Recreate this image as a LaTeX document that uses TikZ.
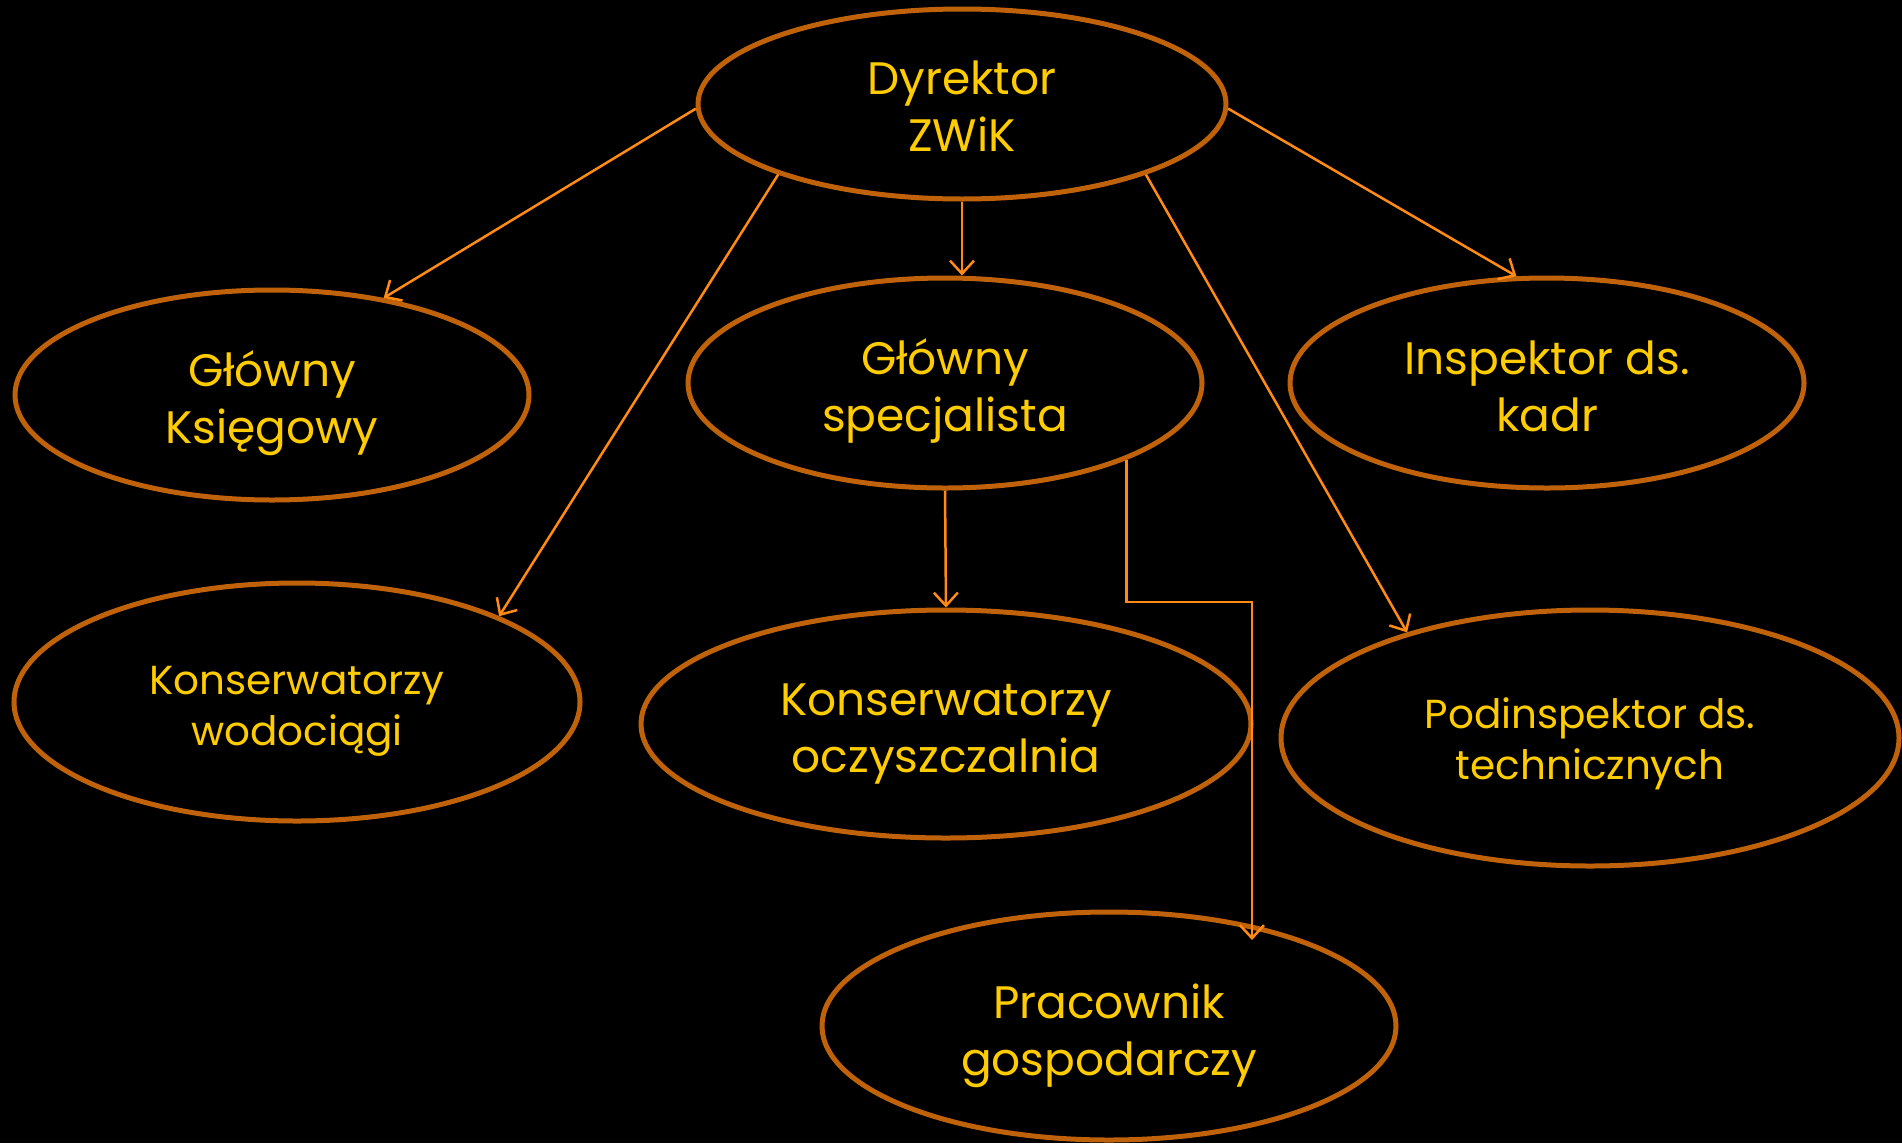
\documentclass[tikz,border=0pt]{standalone}
\usepackage{fontspec}
\setmainfont{Poppins}
\usetikzlibrary{shapes.geometric,arrows.meta}
\definecolor{ring}{HTML}{C0620A}
\definecolor{arrowc}{HTML}{FF8A14}
\definecolor{txt}{HTML}{FFCC00}
\newcommand{\twolines}[3][-9pt]{\raisebox{#1}[\height][\depth]{\begin{tabular}{@{}c@{}}#2\\#3\end{tabular}}}
\begin{document}
\begin{tikzpicture}[x=1pt,y=-1pt,
  box/.style={ellipse,draw=ring,line width=5pt,inner sep=0pt,text=txt,align=center,
    font=\fontsize{45.5}{57}\selectfont},
  smalltxt/.style={font=\fontsize{40.5}{51}\selectfont},
  arr/.style={draw=arrowc,line width=2.5pt,-{Straight Barb[length=13pt,width=24pt,line width=2.5pt]}}]
\fill[black] (0,0) rectangle (1902,1143);
\useasboundingbox (0,0) rectangle (1902,1143);
\node[box,minimum width=528pt,minimum height=190pt] (dyr) at (962,104) {\twolines[-8pt]{Dyrektor}{ZWiK}};
\node[box,minimum width=514pt,minimum height=210pt] (gk) at (272,395) {\twolines{Główny}{Księgowy}};
\node[box,minimum width=514pt,minimum height=210pt] (gs) at (945,383) {\twolines{Główny}{specjalista}};
\node[box,minimum width=514pt,minimum height=210pt] (ins) at (1547,383) {\twolines{Inspektor ds.}{kadr}};
\node[box,smalltxt,minimum width=566pt,minimum height=238pt] (kw) at (297,702) {\twolines[-8pt]{Konserwatorzy}{wodociągi}};
\node[box,minimum width=610pt,minimum height=228pt] (ko) at (946,724) {\twolines{Konserwatorzy}{oczyszczalnia}};
\node[box,smalltxt,minimum width=618pt,minimum height=256pt] (pod) at (1590,738) {\twolines[-6pt]{Podinspektor ds.}{technicznych}};
\node[box,minimum width=574pt,minimum height=228pt] (pr) at (1109,1026) {\twolines[-10pt]{Pracownik}{gospodarczy}};
\coordinate (bend) at (1252,602);
\coordinate (prin) at (1252,940);
\draw[arr] (dyr.181) -- (gk.41);
\draw[arr] (dyr.201.4) -- (kw.23.3);
\draw[arr] (dyr.south) -- (dyr.south |- gs.north);
\draw[arr] (dyr.359.4) -- (ins.106.8);
\draw[arr] (dyr.339.8) -- (pod.150.7);
\draw[arr] (gs.south) -- (ko.north);
\draw[arr] (gs.337) |- (bend) -- (prin);
\end{tikzpicture}
\end{document}
